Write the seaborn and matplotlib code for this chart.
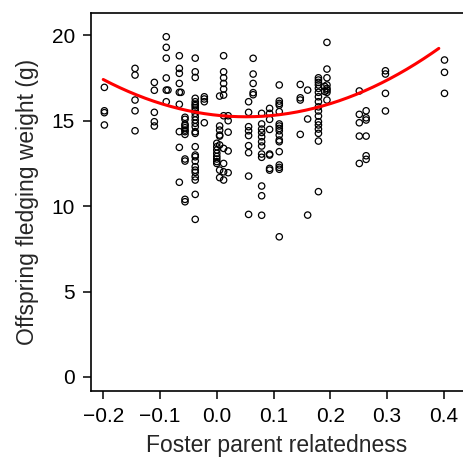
import numpy as np
import pandas as pd
import matplotlib
matplotlib.use("Agg")
import matplotlib.pyplot as plt
import seaborn as sns

# relatedness columns and the offspring weights observed at each
col_x = [-0.198, -0.144, -0.110, -0.089, -0.086, -0.066, -0.063, -0.056,
         -0.038, -0.022, 0.000, 0.005, 0.012, 0.020, 0.056, 0.064,
         0.079, 0.093, 0.110, 0.147, 0.160, 0.179, 0.190, 0.194,
         0.251, 0.263, 0.297, 0.401]
col_weights = [
    [16.94, 15.57, 15.46, 14.74],
    [18.05, 17.66, 16.20, 15.57, 14.40],
    [17.23, 16.77, 15.48, 14.93, 14.68],
    [19.90, 19.28, 18.65, 17.49, 16.78, 16.10],
    [16.78],
    [18.79, 18.05, 17.76, 17.17, 16.65, 15.95, 14.35, 13.43, 11.39],
    [16.65],
    [15.19, 15.07, 14.78, 14.70, 14.58, 14.44, 14.35, 14.19, 12.75, 12.63,
     10.39, 10.25],
    [18.65, 17.85, 17.52, 16.30, 16.10, 15.96, 15.87, 15.75, 15.61, 15.42,
     15.22, 15.03, 14.84, 14.64, 14.35, 14.25, 13.47, 12.98, 12.88, 12.63,
     12.30, 12.10, 11.97, 11.71, 11.52, 10.68, 9.22],
    [16.39, 16.26, 16.10, 14.87],
    [13.67, 13.47, 13.28, 13.08, 12.90, 12.75, 12.60, 12.49],
    [16.43, 14.68, 14.44, 14.15, 14.09, 13.57, 12.10, 11.66],
    [18.79, 17.85, 17.50, 17.17, 16.84, 16.49, 15.28, 13.37, 12.49, 12.00,
     11.52],
    [15.28, 14.99, 14.32, 13.22, 11.95],
    [16.10, 15.48, 14.64, 14.40, 14.12, 13.53, 13.12, 11.75, 9.51],
    [18.64, 17.72, 17.17, 16.63, 16.51],
    [15.42, 14.80, 14.50, 14.30, 14.05, 13.76, 13.51, 13.04, 12.85, 11.17,
     10.60, 9.46],
    [15.71, 15.42, 15.07, 14.48, 13.04, 12.98, 12.20, 12.10],
    [17.08, 16.14, 16.00, 15.90, 15.52, 14.80, 14.68, 14.54, 14.40, 14.15,
     13.86, 13.76, 13.18, 12.40, 12.26, 12.15, 8.20],
    [17.11, 16.33, 16.20, 14.19],
    [16.78, 15.09, 9.47],
    [17.50, 17.37, 17.23, 17.08, 16.88, 16.65, 16.39, 16.10, 15.80, 15.56,
     15.26, 14.93, 14.74, 14.50, 14.25, 13.80, 10.84],
    [17.00, 16.70],
    [19.57, 18.01, 17.50, 17.08, 16.88, 16.78, 16.65, 16.20],
    [16.73, 15.36, 14.87, 14.09, 12.49],
    [15.57, 15.16, 15.03, 14.09, 12.94, 12.73],
    [17.91, 17.72, 16.59, 15.56],
    [18.54, 17.82, 16.59],
]

# quadratic prediction: weight = a + b*r + c*r^2, drawn over this range
curve_coef = [15.31, -3.53, 34.6]
curve_range = [-0.2, 0.391]

x_ticks = [-0.2, -0.1, 0.0, 0.1, 0.2, 0.3, 0.4]
y_ticks = [0, 5, 10, 15, 20]

rows = [(x, w) for x, ws in zip(col_x, col_weights) for w in ws]
df = pd.DataFrame(rows, columns=["relatedness", "weight"])

rr = np.linspace(curve_range[0], curve_range[1], 200)
a, b, c = curve_coef
fit = pd.DataFrame({"relatedness": rr, "weight": a + b * rr + c * rr ** 2})

sns.set_style("ticks")
plt.rcParams["font.family"] = ["Liberation Sans", "DejaVu Sans"]

fig = plt.figure(figsize=(4.63, 4.58), dpi=100)
ax = fig.add_axes([0.196, 0.147, 0.804, 0.825])

sns.scatterplot(data=df, x="relatedness", y="weight", ax=ax,
                marker="o", s=21, facecolor="none", edgecolor="black",
                linewidth=0.9)
sns.lineplot(data=fit, x="relatedness", y="weight", ax=ax,
             color="#ff0000", linewidth=2.2)

ax.set_xlim(-0.222, 0.4336)
ax.set_ylim(-0.8, 21.3)
ax.set_xticks(x_ticks)
ax.set_xticklabels([f"{t:.1f}".replace("-", "\u2212") for t in x_ticks])
ax.set_yticks(y_ticks)
ax.tick_params(axis="both", direction="out", length=6, width=1.1,
               pad=5.5, labelsize=15, colors="black")
for s in ["left", "bottom", "top"]:
    ax.spines[s].set_linewidth(1.2)
    ax.spines[s].set_color("black")
ax.spines["right"].set_visible(False)

ax.set_xlabel("Foster parent relatedness", fontsize=16.5, labelpad=6)
ax.set_ylabel("Offspring fledging weight (g)", fontsize=16.5, labelpad=9)

fig.savefig("out.png", dpi=100)
